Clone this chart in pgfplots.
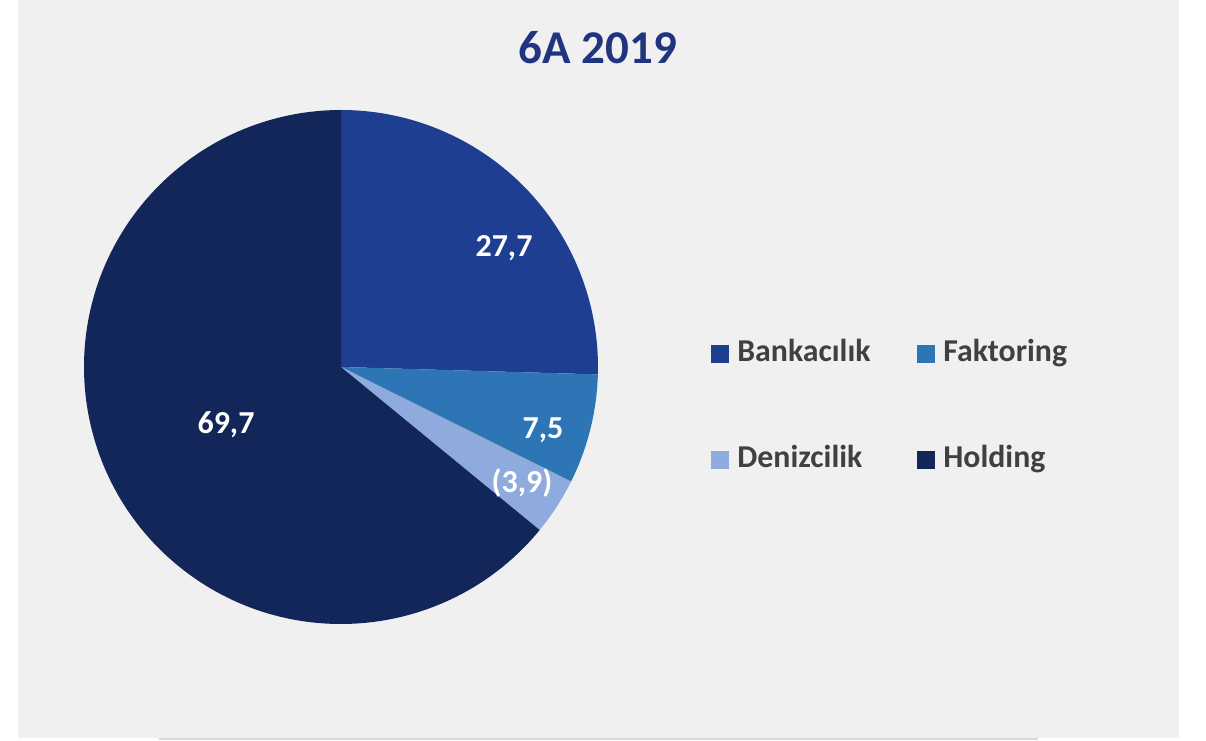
\documentclass[border=0pt]{standalone}
\usepackage{pgfplots}
\pgfplotsset{compat=1.18}
\usepackage{pgfplotstable}
\usepackage{fontspec}
\setmainfont{Carlito}

\definecolor{bank}{HTML}{1E3E92}
\definecolor{fakt}{HTML}{2E75B6}
\definecolor{deniz}{HTML}{8FAADC}
\definecolor{hold}{HTML}{13265A}
\definecolor{titleblue}{HTML}{203480}
\definecolor{legtext}{HTML}{404040}
\definecolor{panel}{HTML}{F0F0F0}
\definecolor{rule}{HTML}{D9D9D9}

% one axis unit = one pixel of the 1206x740 reference
\def\cx{341}\def\cy{373}\def\rad{257}

\newcommand\pieslice[3]{% colour, start angle, end angle
  \fill[#1] (axis cs:\cx,\cy)
    -- (axis cs:{\cx+\rad*cos(#2)},{\cy+\rad*sin(#2)})
    arc[start angle=#2, end angle=#3, radius=\rad] -- cycle;}

\pgfplotstableread{
segment value
Bankacilik 27.7
Faktoring 7.5
Denizcilik 3.9
Holding 69.7
}\piedata

\begin{document}
\begin{tikzpicture}
  \pgfplotstablegetelem{0}{value}\of\piedata\let\vA\pgfplotsretval
  \pgfplotstablegetelem{1}{value}\of\piedata\let\vB\pgfplotsretval
  \pgfplotstablegetelem{2}{value}\of\piedata\let\vC\pgfplotsretval
  \pgfplotstablegetelem{3}{value}\of\piedata\let\vD\pgfplotsretval
  \pgfmathsetmacro\tot{\vA+\vB+\vC+\vD}
  \pgfmathsetmacro\aA{90}
  \pgfmathsetmacro\aB{\aA-(\vA/\tot)*360}
  \pgfmathsetmacro\aC{\aB-(\vB/\tot)*360}
  \pgfmathsetmacro\aD{\aC-(\vC/\tot)*360}
  \pgfmathsetmacro\aE{\aD-(\vD/\tot)*360}
  % page and grey chart area
  \fill[white] (0,0) rectangle (603pt,370pt);
  \fill[panel] (9pt,1pt) rectangle (589.5pt,370pt);
  \fill[rule] (79.5pt,0pt) rectangle (519pt,1pt);
  \begin{axis}[
    at={(0,0)}, anchor=south west,
    scale only axis, width=603pt, height=370pt,
    xmin=0, xmax=1206, ymin=0, ymax=740,
    hide axis, clip=false,
    every node/.style={inner sep=0pt},
    ]
    \pieslice{bank}{\aA}{\aB}
    \pieslice{fakt}{\aB}{\aC}
    \pieslice{deniz}{\aC}{\aD}
    \pieslice{hold}{\aD}{\aE}

    % value labels
    \begin{scope}[every node/.style={white, anchor=base, inner sep=0pt,
        font=\bfseries\fontsize{16}{16}\selectfont}]
      \node at (axis cs:504,483) {27,7};
      \node at (axis cs:543,301) {7,5};
      \node at (axis cs:522,247) {(3,9)};
      \node at (axis cs:226,306) {69,7};
    \end{scope}

    % title
    \node[anchor=base, text=titleblue, font=\bfseries\fontsize{23.5}{24}\selectfont]
      at (axis cs:598,676) {6A 2019};

    % legend
    \begin{scope}[every node/.style={anchor=base west, inner sep=0pt,
        text=legtext, font=\bfseries\fontsize{15.9}{16}\selectfont}]
      \fill[bank]  (axis cs:711,377) rectangle (axis cs:729,395);
      \node at (axis cs:737,378) {Bankacılık};
      \fill[fakt]  (axis cs:917,377) rectangle (axis cs:935,395);
      \node at (axis cs:943,378) {Faktoring};
      \fill[deniz] (axis cs:711,271) rectangle (axis cs:729,289);
      \node at (axis cs:737,272) {Denizcilik};
      \fill[hold]  (axis cs:917,271) rectangle (axis cs:935,289);
      \node at (axis cs:943,272) {Holding};
    \end{scope}
  \end{axis}
  \pgfresetboundingbox
  \useasboundingbox (0,0) rectangle (603pt,370pt);
\end{tikzpicture}
\end{document}
